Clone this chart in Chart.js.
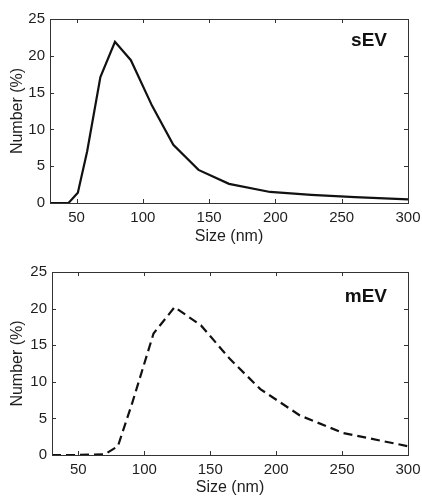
<!DOCTYPE html>
<html>
<head>
<meta charset="utf-8">
<script src="https://cdn.jsdelivr.net/npm/chart.js@4/dist/chart.umd.min.js"></script>
<style>
  html, body { margin: 0; padding: 0; background: #fff; }
  body { width: 422px; height: 499px; position: relative; overflow: hidden; }
  canvas { position: absolute; left: 0; }
  #c1 { top: 0; }
  #c2 { top: 250px; }
</style>
</head>
<body>
<canvas id="c1" width="422" height="250"></canvas>
<canvas id="c2" width="422" height="249"></canvas>
<script>
// ---- data ----
const xTicks = [50, 100, 150, 200, 250, 300];
const yTicks = [0, 5, 10, 15, 20, 25];

const sevSize   = [30, 44, 51, 58, 68, 79, 91, 107, 123, 142, 165, 196, 227, 260, 300];
const sevNumber = [0, 0, 1.4, 7.0, 17.1, 21.9, 19.4, 13.2, 7.9, 4.5, 2.6, 1.5, 1.1, 0.8, 0.5];

const mevSize   = [30, 50, 70, 80, 91, 107, 123, 143, 165, 188, 218, 251, 289, 300];
const mevNumber = [0, 0, 0.1, 1.2, 7.2, 16.6, 20.2, 17.7, 13.1, 9.0, 5.4, 3.0, 1.6, 1.2];

const labels = ['sEV', 'mEV'];

// ---- helpers ----
const FONT = "'Liberation Sans', Arial, Helvetica, sans-serif";
const TEXT = '#1e1e1e';

const framePlugin = {
  id: 'frame',
  afterDatasetsDraw(chart, args, opts) {
    const ctx = chart.ctx;
    const a = chart.chartArea;
    const xs = chart.scales.x, ys = chart.scales.y;
    ctx.save();
    ctx.strokeStyle = '#333';
    ctx.lineWidth = 1;
    ctx.strokeRect(Math.round(a.left) + 0.5, Math.round(a.top) + 0.5,
                   Math.round(a.right - a.left), Math.round(a.bottom - a.top));
    const tl = 4;
    ctx.beginPath();
    xTicks.forEach(v => {
      const px = Math.round(xs.getPixelForValue(v)) + 0.5;
      ctx.moveTo(px, a.bottom); ctx.lineTo(px, a.bottom - tl);
      ctx.moveTo(px, a.top); ctx.lineTo(px, a.top + tl);
    });
    yTicks.forEach(v => {
      const py = Math.round(ys.getPixelForValue(v)) + 0.5;
      ctx.moveTo(a.left, py); ctx.lineTo(a.left + tl, py);
      ctx.moveTo(a.right, py); ctx.lineTo(a.right - tl, py);
    });
    ctx.stroke();
    // panel label
    ctx.fillStyle = '#111';
    ctx.font = 'bold 19px ' + FONT;
    ctx.textAlign = 'right';
    ctx.textBaseline = 'alphabetic';
    ctx.fillText(opts.text, a.right - 21, a.top + opts.dy);
    ctx.restore();
  }
};

function makeChart(id, xs, ys, dash, cfg) {
  const pts = xs.map((x, i) => ({ x: x, y: ys[i] }));
  return new Chart(document.getElementById(id), {
    type: 'line',
    data: {
      datasets: [{
        data: pts,
        borderColor: '#111',
        borderWidth: 2.2,
        borderDash: dash,
        pointRadius: 0,
        tension: 0,
        fill: false,
        clip: false
      }]
    },
    options: {
      responsive: false,
      animation: false,
      devicePixelRatio: 1,
      layout: { padding: { top: cfg.top, right: 14, left: 0, bottom: 0 } },
      plugins: {
        legend: { display: false },
        tooltip: { enabled: false },
        frame: { text: cfg.label, dy: cfg.labelDy }
      },
      scales: {
        x: {
          type: 'linear',
          min: 30, max: 300,
          afterBuildTicks: s => { s.ticks = xTicks.map(v => ({ value: v })); },
          afterFit: s => { s.height = cfg.xH; s.paddingLeft = 0; s.paddingRight = 0; },
          grid: { display: false, drawTicks: false },
          border: { display: false },
          ticks: { font: { family: FONT, size: 15 }, color: TEXT, padding: 6, maxRotation: 0, autoSkip: false },
          title: { display: true, text: 'Size (nm)', font: { family: FONT, size: 16 }, color: TEXT,
                   padding: { top: 0, bottom: cfg.titlePad } }
        },
        y: {
          type: 'linear',
          min: 0, max: 25,
          afterBuildTicks: s => { s.ticks = yTicks.map(v => ({ value: v })); },
          afterFit: s => { s.width = cfg.yW; s.paddingTop = 0; s.paddingBottom = 0; },
          grid: { display: false, drawTicks: false },
          border: { display: false },
          ticks: { font: { family: FONT, size: 15 }, color: TEXT, padding: 5 },
          title: { display: true, text: 'Number (%)', font: { family: FONT, size: 16 }, color: TEXT,
                   padding: { top: 8, bottom: 0 } }
        }
      }
    },
    plugins: [framePlugin]
  });
}

makeChart('c1', sevSize, sevNumber, [], { top: 19, xH: 47, yW: 50, titlePad: 3.4, label: labels[0], labelDy: 27 });
makeChart('c2', mevSize, mevNumber, [9, 5], { top: 22, xH: 44, yW: 52, titlePad: 1.4, label: labels[1], labelDy: 30 });
</script>
</body>
</html>
